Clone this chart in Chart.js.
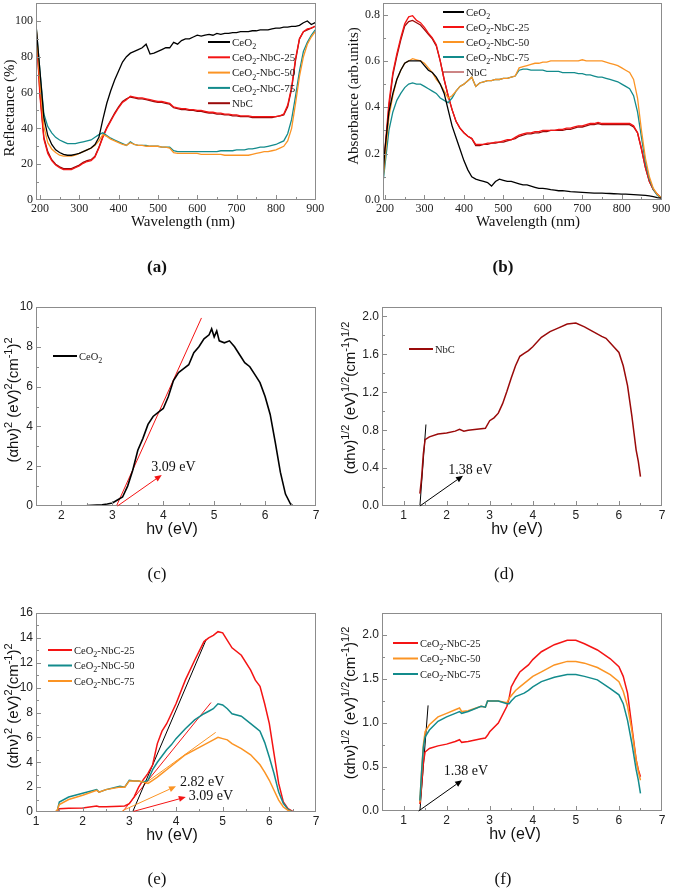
<!DOCTYPE html>
<html>
<head>
<meta charset="utf-8">
<script src="https://cdn.jsdelivr.net/npm/chart.js@4.4.1/dist/chart.umd.min.js"></script>
<style>
  html, body { margin: 0; padding: 0; background: #fff; }
  #page { position: relative; width: 673px; height: 888px; overflow: hidden; }
  #page canvas { position: absolute; left: 0; top: 0; }
  .tag { position: absolute; font-family: "Liberation Serif", serif; font-size: 17px; transform: translate(-50%, -50%); color: #111; }
  .tag.b { font-weight: bold; }
</style>
</head>
<body>
<div id="page">
  <canvas id="chA" width="673" height="888"></canvas>
  <canvas id="chB" width="673" height="888"></canvas>
  <canvas id="chC" width="673" height="888"></canvas>
  <canvas id="chD" width="673" height="888"></canvas>
  <canvas id="chE" width="673" height="888"></canvas>
  <canvas id="chF" width="673" height="888"></canvas>
  <div class="tag b" style="left:157px;top:267px">(a)</div>
  <div class="tag b" style="left:503px;top:267px">(b)</div>
  <div class="tag" style="left:157px;top:574px">(c)</div>
  <div class="tag" style="left:504px;top:574px">(d)</div>
  <div class="tag" style="left:157px;top:879px">(e)</div>
  <div class="tag" style="left:503px;top:879px">(f)</div>
</div>
<script>
// ---- data: (a) reflectance and (b) absorbance vs wavelength ----
const wl = [
  190,200,210,220,230,240,250,260,270,280,
  290,300,310,320,330,340,350,360,370,380,
  390,400,410,420,430,440,450,460,470,480,
  490,500,510,520,530,540,550,560,570,580,
  590,600,610,620,630,640,650,660,670,680,
  690,700,710,720,730,740,750,760,770,780,
  790,800,810,820,830,840,850,860,870,880,
  890,900]
const wlTicks = [200, 300, 400, 500, 600, 700, 800, 900]

const reflCeO2 = [
  98,72,46,36,31,28,26.5,25.5,25,25,
  25.5,26,27,28,29,31,35,45,54,61,
  67,72,77,80,82,83,84,85,87,81.5,
  82,83,84,85,85,88,87,89,90,90,
  91,92,91.5,92,92.5,92,93,92.5,93,93,
  93.5,93.5,94,94,94,94.5,94.5,95,95,95,
  95.5,96,96,96.5,96.5,97,97,97.5,99,100,
  98,99]
const reflNbC25 = [
  98,58,34,26,22,19.5,18,17,17,17,
  18,19,20.5,21.5,22,24,29,35,40,44,
  48,51.5,54.5,56,58,57.5,57,57,56.5,56,
  55.5,55,55,54.5,54,52,51.5,51,51,50.5,
  50.5,50,50,49.5,49,49,48.5,48.5,48,48,
  47.5,47.5,47,47,47,46.5,46.5,46.5,46.5,46.5,
  46.5,46.5,47,48,53,63,79,90,94,95.5,
  96,97]
const reflNbC50 = [
  98,66,41,32,28.5,26.5,25,24.5,24.5,24.5,
  25,26,27,28,29,30.5,33,36.5,35.5,34,
  33,32,31,30.5,32,31,30.5,30.5,30,30,
  30,30,29.5,29.5,29,26.5,26,26,26,26,
  26,26,25.5,25.5,25.5,25.5,25.5,25.5,25,25,
  25,25,25,25,25,25.5,26,26.5,27,27,
  27.5,28,29,30,33,40,54,69,80,87,
  91,94]
const reflNbC75 = [
  98,72,48,41,37.5,35,33.5,32.5,31.5,31.5,
  31.5,32,32.5,33,33.5,35,36.5,37.5,36,34.5,
  33.5,32.5,31.5,30.5,32.5,31,30.5,30.5,30.5,30,
  30,30,29.5,29.5,29.5,27.5,27,27,27,27,
  27,27,27,27,27,27,27,27.5,27.5,27.5,
  27.5,28,28,28,28.5,28.5,29,29.5,29.5,30,
  30.5,31,32,33,37,45,58,72,83,88,
  92,95]
const reflNbC = [
  97,60,35,27,22.5,20,18.5,17.5,17.5,17.5,
  18.5,19.5,21,22,22.5,24.5,29.5,35.5,40.5,44.5,
  48.5,52,55,56.5,57.5,57,56.5,56.5,56,55.5,
  55,54.5,54.5,54,53.5,51.5,51,50.5,50.5,50,
  50,49.5,49.5,49,48.5,48.5,48,48,47.5,47.5,
  47,47,46.5,46.5,46.5,46,46,46,46,46,
  46,46.5,47,47.5,52,62,78,90,94,95,
  96,97]
const reflTicks = [0, 20, 40, 60, 80, 100]

const absCeO2 = [
  0,0.22,0.38,0.46,0.52,0.56,0.59,0.6,0.6,0.6,
  0.6,0.58,0.56,0.55,0.53,0.5,0.46,0.39,0.32,0.27,
  0.22,0.17,0.13,0.1,0.09,0.085,0.08,0.075,0.06,0.08,
  0.09,0.085,0.08,0.08,0.075,0.07,0.065,0.065,0.06,0.055,
  0.05,0.05,0.048,0.045,0.043,0.04,0.04,0.038,0.036,0.035,
  0.034,0.033,0.032,0.031,0.03,0.03,0.03,0.029,0.028,0.027,
  0.026,0.025,0.025,0.024,0.023,0.022,0.021,0.02,0.018,0.015,
  0.01,0.008]
const absNbC25 = [
  0,0.22,0.42,0.55,0.63,0.7,0.76,0.79,0.795,0.775,
  0.765,0.745,0.72,0.7,0.67,0.6,0.52,0.45,0.39,0.34,
  0.31,0.29,0.275,0.265,0.24,0.24,0.24,0.245,0.245,0.25,
  0.25,0.255,0.26,0.26,0.27,0.28,0.285,0.29,0.29,0.295,
  0.295,0.3,0.3,0.3,0.3,0.305,0.305,0.31,0.31,0.315,
  0.32,0.32,0.325,0.33,0.33,0.335,0.33,0.33,0.33,0.33,
  0.33,0.33,0.33,0.33,0.32,0.29,0.22,0.14,0.08,0.045,
  0.025,0.01]
const absNbC50 = [
  0,0.18,0.36,0.45,0.52,0.56,0.59,0.6,0.61,0.605,
  0.6,0.59,0.57,0.55,0.52,0.5,0.47,0.44,0.45,0.47,
  0.49,0.5,0.515,0.53,0.49,0.505,0.51,0.515,0.515,0.52,
  0.52,0.525,0.525,0.53,0.535,0.57,0.575,0.58,0.585,0.59,
  0.59,0.595,0.595,0.6,0.6,0.6,0.6,0.6,0.6,0.6,
  0.6,0.605,0.6,0.6,0.6,0.6,0.6,0.595,0.59,0.585,
  0.58,0.57,0.56,0.55,0.52,0.44,0.3,0.18,0.1,0.05,
  0.025,0.01]
const absNbC75 = [
  0,0.15,0.3,0.38,0.43,0.46,0.485,0.5,0.505,0.5,
  0.5,0.49,0.48,0.47,0.46,0.44,0.43,0.42,0.44,0.47,
  0.49,0.5,0.515,0.53,0.49,0.505,0.51,0.515,0.515,0.52,
  0.52,0.525,0.525,0.53,0.535,0.56,0.565,0.565,0.56,0.56,
  0.56,0.56,0.555,0.555,0.555,0.555,0.55,0.55,0.55,0.55,
  0.545,0.545,0.54,0.54,0.535,0.53,0.53,0.525,0.52,0.515,
  0.51,0.5,0.49,0.48,0.45,0.38,0.27,0.16,0.09,0.045,
  0.02,0.01]
const absNbC = [
  0,0.2,0.4,0.54,0.62,0.69,0.75,0.77,0.775,0.765,
  0.755,0.735,0.715,0.695,0.665,0.6,0.52,0.45,0.39,0.34,
  0.31,0.29,0.275,0.265,0.235,0.235,0.24,0.24,0.245,0.245,
  0.25,0.25,0.255,0.26,0.265,0.275,0.28,0.285,0.285,0.29,
  0.29,0.295,0.295,0.3,0.3,0.3,0.3,0.305,0.305,0.31,
  0.315,0.315,0.32,0.325,0.325,0.33,0.325,0.325,0.325,0.325,
  0.325,0.325,0.325,0.325,0.315,0.29,0.22,0.14,0.08,0.045,
  0.025,0.01]
const absTicks = [0, 0.2, 0.4, 0.6, 0.8]

// ---- (c) CeO2 Tauc plot ----
const hvC = [1.5,2.0,2.5,2.8,2.9,3.0,3.1,3.2,3.3,3.4,
  3.5,3.6,3.7,3.8,3.9,4.0,4.1,4.2,4.3,4.4,
  4.5,4.6,4.7,4.8,4.9,4.95,5.0,5.05,5.1,5.2,
  5.3,5.4,5.5,5.6,5.7,5.8,5.9,6.0,6.1,6.2,
  6.3,6.4,6.5,6.55]
const taucCeO2 = [0,0,0.02,0.06,0.1,0.15,0.3,0.45,1.0,1.8,
  2.8,3.4,4.1,4.5,4.7,4.9,5.5,6.3,6.7,6.9,
  7.1,7.7,8.0,8.4,8.6,8.9,8.5,8.8,8.3,8.2,
  8.3,8.0,7.6,7.2,7.0,6.6,6.2,5.5,4.6,3.2,
  1.7,0.6,0.1,0]
const fitC = [[3.08, 0], [4.75, 9.45]]
const arrowC = [[3.1, 0], [3.97, 1.56]]
const gapC = '3.09 eV'
const hvTicksC = [2, 3, 4, 5, 6, 7]
const yTicksC = [0, 2, 4, 6, 8, 10]

// ---- (d) NbC ----
const hvD = [1.38,1.42,1.46,1.5,1.6,1.8,2.0,2.2,2.3,2.4,
  2.5,2.7,2.9,3.0,3.1,3.2,3.3,3.4,3.5,3.6,
  3.7,3.8,3.9,4.0,4.2,4.4,4.6,4.8,5.0,5.2,
  5.4,5.6,5.7,5.8,5.9,6.0,6.1,6.2,6.3,6.4,
  6.45,6.5]
const taucNbC = [0.13,0.3,0.55,0.7,0.73,0.76,0.77,0.79,0.81,0.79,
  0.8,0.81,0.82,0.9,0.93,0.98,1.08,1.21,1.35,1.48,
  1.58,1.61,1.64,1.68,1.78,1.84,1.88,1.92,1.93,1.89,
  1.84,1.79,1.77,1.72,1.67,1.62,1.48,1.27,0.95,0.59,
  0.47,0.31]
const fitD = [[1.38, 0], [1.52, 0.86]]
const arrowD = [[1.38, 0], [2.38, 0.32]]
const gapD = '1.38 eV'
const hvTicks = [1, 2, 3, 4, 5, 6, 7]
const yTicksD = [0, 0.4, 0.8, 1.2, 1.6, 2.0]

// ---- (e) composites, direct gap ----
const hvE = [1.4,1.45,1.5,1.7,2.0,2.3,2.35,2.5,2.8,2.9,
  3.0,3.1,3.2,3.3,3.4,3.5,3.6,3.7,3.8,3.9,
  4.0,4.2,4.4,4.6,4.7,4.8,4.9,5.0,5.1,5.2,
  5.4,5.6,5.7,5.8,5.9,6.0,6.1,6.2,6.3,6.4,
  6.5]
const taucE25 = [null,0.05,0.27,0.3,0.32,0.48,0.42,0.42,0.46,0.48,
  0.67,1.2,2.0,2.6,3.1,3.8,5.5,6.5,7.1,7.9,
  8.7,10.6,12.2,13.7,14.0,14.2,14.5,14.4,13.8,13.2,
  12.6,11.4,10.6,10.1,8.7,7.1,4.7,2.3,0.8,0.27,
  0.05]
const taucE50 = [null,0,0.8,1.2,1.5,1.8,1.6,1.8,2.07,2.0,
  2.55,2.5,2.5,2.4,2.55,3.4,4.0,4.5,5.0,5.4,
  5.9,6.7,7.4,7.9,8.1,8.3,8.7,8.6,8.3,7.9,
  7.7,7.1,6.8,6.5,5.6,4.4,3.1,1.6,0.7,0.2,
  0]
const taucE75 = [0,0.1,0.6,1.0,1.35,1.75,1.6,1.8,2.0,2.0,
  2.5,2.5,2.5,2.4,2.3,2.55,2.8,3.1,3.4,3.7,
  4.0,4.6,5.0,5.4,5.6,5.8,6.0,5.9,5.8,5.5,
  5.1,4.6,4.2,3.8,3.2,2.55,1.75,0.95,0.4,0.13,
  0]
const fitE25 = [[3.07, 0], [4.65, 13.9]]
const fitE50 = [[2.85, 0], [4.75, 8.8]]
const fitE75 = [[3.3, 2.2], [4.85, 6.4]]
const arrowE1 = [[2.85, 0.1], [4.0, 2.07]]
const arrowE2 = [[3.09, 0.05], [4.21, 1.2]]
const gapE1 = '2.82 eV'
const gapE2 = '3.09 eV'
const yTicksE = [0, 2, 4, 6, 8, 10, 12, 14, 16]

// ---- (f) composites, indirect gap ----
const hvF = [1.38,1.42,1.46,1.5,1.6,1.8,2.0,2.2,2.3,2.35,
  2.5,2.8,2.9,2.95,3.0,3.2,3.4,3.45,3.5,3.6,
  3.7,3.8,3.9,4.0,4.2,4.5,4.8,5.0,5.2,5.5,
  5.8,6.0,6.1,6.2,6.3,6.4,6.45,6.5]
const taucF25 = [0.08,0.3,0.55,0.67,0.71,0.74,0.76,0.79,0.81,0.78,
  0.79,0.82,0.83,0.86,0.9,1.0,1.19,1.28,1.41,1.5,
  1.58,1.62,1.66,1.72,1.81,1.89,1.94,1.94,1.9,1.83,
  1.73,1.64,1.53,1.34,0.96,0.58,0.47,0.39]
const taucF50 = [0.1,0.45,0.75,0.9,0.98,1.07,1.11,1.15,1.17,1.13,
  1.14,1.19,1.18,1.25,1.25,1.25,1.23,1.28,1.31,1.37,
  1.41,1.45,1.49,1.53,1.58,1.66,1.7,1.7,1.68,1.63,
  1.55,1.47,1.36,1.19,0.92,0.58,0.45,0.35]
const taucF75 = [0.12,0.45,0.72,0.84,0.92,1.02,1.07,1.11,1.13,1.11,
  1.13,1.19,1.18,1.25,1.25,1.25,1.22,1.22,1.25,1.3,
  1.32,1.34,1.37,1.41,1.47,1.52,1.55,1.55,1.53,1.49,
  1.39,1.32,1.22,1.03,0.77,0.47,0.35,0.2]
const fitF = [[1.38, 0], [1.57, 1.2]]
const arrowF = [[1.35, 0], [2.36, 0.35]]
const gapF = '1.38 eV'
const yTicksF = [0, 0.5, 1.0, 1.5, 2.0]

// colours
const BLACK = '#000000', RED = '#f41414', ORANGE = '#fb9424', TEAL = '#138b8c', DKRED = '#9a0a0a'
const SERIF = '"Liberation Serif", "Times New Roman", serif'
const SANS = '"Liberation Sans", Arial, sans-serif'

// rich text: ^{..} superscript, _{..} subscript
function parseRich(s) {
    let out = [], buf = '', i = 0
    while (i < s.length) {
        let c = s[i]
        if ((c == '^' || c == '_') && s[i + 1] == '{') {
            if (buf) { out.push({ t: buf, m: 0 }); buf = '' }
            let end = s.indexOf('}', i)
            out.push({ t: s.slice(i + 2, end), m: c == '^' ? 1 : -1 })
            i = end + 1
        } else { buf += c; i++ }
    }
    if (buf) out.push({ t: buf, m: 0 })
    return out
}
function drawRich(ctx, str, x, y, o) {
    let segs = parseRich(str)
    let size = o.size, small = Math.round(size * 0.72), w = 0
    segs.forEach(sg => {
        ctx.font = (sg.m ? small : size) + 'px ' + o.family
        sg.w = ctx.measureText(sg.t).width
        w += sg.w
    })
    ctx.save()
    ctx.translate(x, y)
    if (o.rotate) ctx.rotate(-Math.PI / 2)
    ctx.fillStyle = o.color || '#111'
    ctx.textAlign = 'left'
    ctx.textBaseline = 'alphabetic'
    let cx = o.align == 'left' ? 0 : -w / 2
    segs.forEach(sg => {
        ctx.font = (sg.m ? small : size) + 'px ' + o.family
        let dy = sg.m == 1 ? -size * 0.42 : (sg.m == -1 ? size * 0.28 : 0)
        ctx.fillText(sg.t, cx, size * 0.35 + dy)
        cx += sg.w
    })
    ctx.restore()
}

function minorTicks(major, min, max) {
    let step = major[1] - major[0], res = []
    for (let v = major[0] - step / 2; v > min; v -= step) res.push(v)
    for (let i = 0; i < major.length; i++) {
        let v = major[i] + step / 2
        if (v < max) res.push(v)
    }
    return res
}

// frame, inner ticks, legend, titles, arrows, notes
const decor = {
    id: 'decor',
    afterDraw(chart, args, o) {
        const ctx = chart.ctx, a = chart.chartArea
        const xs = chart.scales.x, ys = chart.scales.y
        ctx.save()
        ctx.strokeStyle = '#8c8c8c'
        ctx.lineWidth = 1
        ctx.strokeRect(a.left + 0.5, a.top + 0.5, a.right - a.left - 1, a.bottom - a.top - 1)
        const tick = (vals, len, isX) => {
            vals.forEach(v => {
                ctx.beginPath()
                if (isX) {
                    let p = Math.round(xs.getPixelForValue(v)) + 0.5
                    if (p < a.left || p > a.right) return
                    ctx.moveTo(p, a.bottom); ctx.lineTo(p, a.bottom - len)
                } else {
                    let p = Math.round(ys.getPixelForValue(v)) + 0.5
                    if (p < a.top || p > a.bottom) return
                    ctx.moveTo(a.left, p); ctx.lineTo(a.left + len, p)
                }
                ctx.stroke()
            })
        }
        tick(o.xTicks, 5, true)
        tick(minorTicks(o.xTicks, xs.min, xs.max), 3, true)
        tick(o.yTicks, 5, false)
        tick(minorTicks(o.yTicks, ys.min, ys.max), 3, false)

        ;(o.arrows || []).forEach(ar => {
            let x0 = xs.getPixelForValue(ar.p[0][0]), y0 = ys.getPixelForValue(ar.p[0][1])
            let x1 = xs.getPixelForValue(ar.p[1][0]), y1 = ys.getPixelForValue(ar.p[1][1])
            let ang = Math.atan2(y1 - y0, x1 - x0), L = 7, W = 3
            ctx.strokeStyle = ar.color; ctx.fillStyle = ar.color; ctx.lineWidth = 1
            ctx.beginPath(); ctx.moveTo(x0, y0)
            ctx.lineTo(x1 - L * Math.cos(ang), y1 - L * Math.sin(ang)); ctx.stroke()
            ctx.beginPath(); ctx.moveTo(x1, y1)
            ctx.lineTo(x1 - L * Math.cos(ang) + W * Math.sin(ang), y1 - L * Math.sin(ang) - W * Math.cos(ang))
            ctx.lineTo(x1 - L * Math.cos(ang) - W * Math.sin(ang), y1 - L * Math.sin(ang) + W * Math.cos(ang))
            ctx.closePath(); ctx.fill()
        })
        ;(o.notes || []).forEach(n => {
            drawRich(ctx, n.text, xs.getPixelForValue(n.at[0]), ys.getPixelForValue(n.at[1]),
                { size: 14, family: SERIF, color: '#111' })
        })
        let lg = o.legend
        lg.items.forEach((it, i) => {
            let y = lg.y + i * lg.dy
            ctx.strokeStyle = it.color
            ctx.lineWidth = it.width || 2
            ctx.beginPath(); ctx.moveTo(lg.x0, y); ctx.lineTo(lg.x1, y); ctx.stroke()
            drawRich(ctx, it.label, lg.x1 + 2, y, { size: lg.size, family: SERIF, align: 'left', color: '#222' })
        })
        o.titles.forEach(t => drawRich(ctx, t.text, t.x, t.y, { size: t.size, family: t.family, rotate: t.rot }))
        ctx.restore()
    }
}

function pts(xv, yv) {
    return xv.map((x, i) => ({ x: x, y: yv[i] }))
}
function seg(p) {
    return p.map(q => ({ x: q[0], y: q[1] }))
}
function line(data, color, width) {
    return { data: data, borderColor: color, borderWidth: width || 1.3, pointRadius: 0, tension: 0, fill: false, spanGaps: false }
}

function makePanel(id, c) {
    const fmt = c.fmt || (v => String(v))
    new Chart(document.getElementById(id), {
        type: 'line',
        data: { datasets: c.datasets },
        options: {
            responsive: false,
            animation: false,
            events: [],
            layout: { padding: { left: c.area.l - 30, top: c.area.t, right: 673 - c.area.r, bottom: 888 - c.area.b - 20 } },
            plugins: {
                legend: { display: false },
                tooltip: { enabled: false },
                decor: { xTicks: c.xTicks, yTicks: c.yTicks, legend: c.legend, titles: c.titles, arrows: c.arrows, notes: c.notes }
            },
            scales: {
                x: {
                    type: 'linear', min: c.xMin, max: c.xMax,
                    grid: { display: false, drawTicks: false }, border: { display: false },
                    afterBuildTicks: s => { s.ticks = c.xTicks.map(v => ({ value: v })) },
                    afterFit: s => { s.height = 20; s.paddingLeft = 0; s.paddingRight = 0 },
                    ticks: { autoSkip: false, maxRotation: 0, padding: 2, color: '#222', font: { family: c.font, size: 12 } }
                },
                y: {
                    type: 'linear', min: c.yMin, max: c.yMax,
                    grid: { display: false, drawTicks: false }, border: { display: false },
                    afterBuildTicks: s => { s.ticks = c.yTicks.map(v => ({ value: v })) },
                    afterFit: s => { s.width = 30; s.paddingTop = 0; s.paddingBottom = 0 },
                    ticks: { autoSkip: false, padding: 3, color: '#222', font: { family: c.font, size: 12 }, callback: v => fmt(v) }
                }
            }
        },
        plugins: [decor]
    })
}

const lblCe = 'CeO_{2}', lbl25 = 'CeO_{2}-NbC-25', lbl50 = 'CeO_{2}-NbC-50', lbl75 = 'CeO_{2}-NbC-75'
const titleDirect = '(\u03b1h\u03bd)^{2} (eV)^{2}(cm^{-1})^{2}'
const titleIndirect = '(\u03b1h\u03bd)^{1/2} (eV)^{1/2}(cm^{-1})^{1/2}'
const titleHv = 'h\u03bd (eV)'

makePanel('chA', {
    area: { l: 36, t: 3, r: 316, b: 200 }, xMin: 190, xMax: 902, yMin: 0, yMax: 110,
    xTicks: wlTicks, yTicks: reflTicks, font: SERIF,
    datasets: [line(pts(wl, reflCeO2), BLACK), line(pts(wl, reflNbC50), ORANGE), line(pts(wl, reflNbC75), TEAL),
        line(pts(wl, reflNbC25), RED), line(pts(wl, reflNbC), DKRED)],
    legend: { x0: 208, x1: 230, y: 42, dy: 15.3, size: 11, items: [
        { label: lblCe, color: BLACK }, { label: lbl25, color: RED }, { label: lbl50, color: ORANGE },
        { label: lbl75, color: TEAL }, { label: 'NbC', color: DKRED }] },
    titles: [{ text: 'Wavelength (nm)', x: 183, y: 221, size: 15, family: SERIF },
        { text: 'Reflectance (%)', x: 9, y: 108, size: 15, family: SERIF, rot: true }]
})

makePanel('chB', {
    area: { l: 383, t: 3, r: 662, b: 200 }, xMin: 195, xMax: 902, yMin: 0, yMax: 0.85,
    xTicks: wlTicks, yTicks: absTicks, font: SERIF, fmt: v => v.toFixed(1),
    datasets: [line(pts(wl, absCeO2), BLACK), line(pts(wl, absNbC50), ORANGE), line(pts(wl, absNbC75), TEAL),
        line(pts(wl, absNbC25), RED), line(pts(wl, absNbC), DKRED)],
    legend: { x0: 443, x1: 464, y: 12, dy: 15, size: 11, items: [
        { label: lblCe, color: BLACK }, { label: lbl25, color: RED }, { label: lbl50, color: ORANGE },
        { label: lbl75, color: TEAL }, { label: 'NbC', color: DKRED, width: 1 }] },
    titles: [{ text: 'Wavelength (nm)', x: 528, y: 221, size: 15, family: SERIF },
        { text: 'Absorbance (arb.units)', x: 353, y: 96, size: 15, family: SERIF, rot: true }]
})

makePanel('chC', {
    area: { l: 36, t: 307, r: 316, b: 506 }, xMin: 1.5, xMax: 7, yMin: 0, yMax: 10,
    xTicks: hvTicksC, yTicks: yTicksC, font: SANS,
    datasets: [line(pts(hvC, taucCeO2), BLACK, 1.6), line(seg(fitC), RED, 1)],
    legend: { x0: 53, x1: 77, y: 356, dy: 15, size: 10.5, items: [{ label: lblCe, color: BLACK }] },
    arrows: [{ p: arrowC, color: RED }],
    notes: [{ text: gapC, at: [4.2, 1.98] }],
    titles: [{ text: titleHv, x: 172, y: 528, size: 16, family: SANS },
        { text: titleDirect, x: 13, y: 400, size: 15, family: SANS, rot: true }]
})

makePanel('chD', {
    area: { l: 382, t: 307, r: 662, b: 506 }, xMin: 0.5, xMax: 7, yMin: 0, yMax: 2.1,
    xTicks: hvTicks, yTicks: yTicksD, font: SANS, fmt: v => v.toFixed(1),
    datasets: [line(pts(hvD, taucNbC), DKRED, 1.5), line(seg(fitD), BLACK, 1)],
    legend: { x0: 409, x1: 433, y: 349, dy: 15, size: 10.5, items: [{ label: 'NbC', color: DKRED }] },
    arrows: [{ p: arrowD, color: BLACK }],
    notes: [{ text: gapD, at: [2.55, 0.39] }],
    titles: [{ text: titleHv, x: 517, y: 528, size: 16, family: SANS },
        { text: titleIndirect, x: 350, y: 398, size: 15, family: SANS, rot: true }]
})

makePanel('chE', {
    area: { l: 36, t: 613, r: 316, b: 812 }, xMin: 1, xMax: 7, yMin: 0, yMax: 16,
    xTicks: hvTicks, yTicks: yTicksE, font: SANS,
    datasets: [line(pts(hvE, taucE75), ORANGE, 1.5), line(pts(hvE, taucE50), TEAL, 1.5), line(pts(hvE, taucE25), RED, 1.5),
        line(seg(fitE25), BLACK, 1), line(seg(fitE50), RED, 1), line(seg(fitE75), ORANGE, 1)],
    legend: { x0: 48, x1: 72, y: 650, dy: 15.5, size: 10.5, items: [
        { label: lbl25, color: RED }, { label: lbl50, color: TEAL }, { label: lbl75, color: ORANGE }] },
    arrows: [{ p: arrowE1, color: ORANGE }, { p: arrowE2, color: RED }],
    notes: [{ text: gapE1, at: [4.56, 2.5] }, { text: gapE2, at: [4.75, 1.35] }],
    titles: [{ text: titleHv, x: 172, y: 834, size: 16, family: SANS },
        { text: titleDirect, x: 13, y: 706, size: 15, family: SANS, rot: true }]
})

makePanel('chF', {
    area: { l: 382, t: 613, r: 662, b: 811 }, xMin: 0.5, xMax: 7, yMin: 0, yMax: 2.25,
    xTicks: hvTicks, yTicks: yTicksF, font: SANS, fmt: v => v.toFixed(1),
    datasets: [line(pts(hvF, taucF75), TEAL, 1.5), line(pts(hvF, taucF50), ORANGE, 1.5), line(pts(hvF, taucF25), RED, 1.5),
        line(seg(fitF), BLACK, 1)],
    legend: { x0: 393, x1: 418, y: 643, dy: 15.5, size: 10.5, items: [
        { label: lbl25, color: RED }, { label: lbl50, color: ORANGE }, { label: lbl75, color: TEAL }] },
    arrows: [{ p: arrowF, color: BLACK }],
    notes: [{ text: gapF, at: [2.45, 0.46] }],
    titles: [{ text: titleHv, x: 515, y: 833, size: 16, family: SANS },
        { text: titleIndirect, x: 350, y: 703, size: 15, family: SANS, rot: true }]
})
</script>
</body>
</html>
